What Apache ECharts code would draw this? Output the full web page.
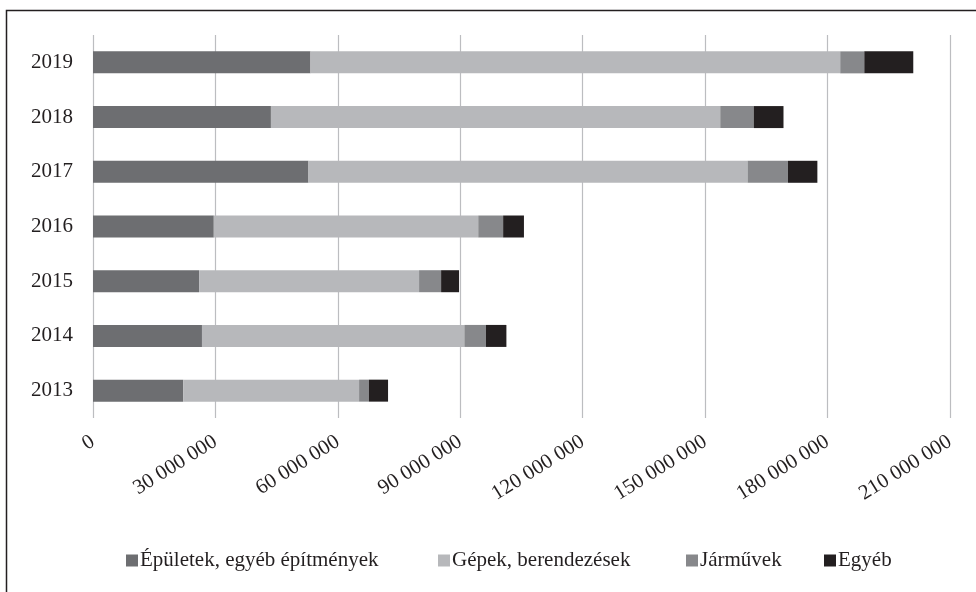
<!DOCTYPE html>
<html>
<head>
<meta charset="utf-8">
<script src="https://cdn.jsdelivr.net/npm/echarts@6/dist/echarts.min.js"></script>
<style>
html,body{margin:0;padding:0;background:#fff;}
#chart{width:976px;height:592px;}
</style>
</head>
<body>
<div id="chart"></div>
<script>
var years = ['2013', '2014', '2015', '2016', '2017', '2018', '2019'];
var seriesNames = ['Épületek, egyéb építmények', 'Gépek, berendezések', 'Járművek', 'Egyéb'];
var epuletek = [22100000, 26700000, 26000000, 29600000, 52800000, 43600000, 53300000];
var gepek    = [43100000, 64300000, 53900000, 64800000, 107600000, 110100000, 129800000];
var jarmuvek = [2400000, 5300000, 5400000, 6100000, 9900000, 8200000, 5900000];
var egyeb    = [4700000, 5000000, 4400000, 5100000, 7200000, 7300000, 12000000];
var colors = ['#6d6e71', '#b7b8bb', '#87888b', '#231f20'];
var seriesData = [epuletek, gepek, jarmuvek, egyeb];
var legendLefts = [126, 438, 686, 824];

var font = '"Liberation Serif", "DejaVu Serif", serif';

function fmt(v) {
  return String(v).replace(/\B(?=(\d{3})+(?!\d))/g, ' ');
}

var chart = echarts.init(document.getElementById('chart'), null, {renderer: 'canvas'});
chart.setOption({
  animation: false,
  backgroundColor: '#fff',
  textStyle: {fontFamily: font, color: '#231f20'},
  graphic: [{
    type: 'rect',
    shape: {x: 6.5, y: 10.5, width: 1200, height: 1200},
    style: {fill: 'none', stroke: '#231f20', lineWidth: 1.5},
    silent: true
  }],
  grid: {left: 93, right: 26, top: 35, bottom: 174, containLabel: false},
  legend: seriesNames.map(function (n, i) {
    return {
      data: [n],
      top: 550,
      left: legendLefts[i],
      padding: 0,
      itemWidth: 12,
      itemHeight: 12,
      icon: 'rect',
      textStyle: {fontFamily: font, fontSize: 21, color: '#231f20', padding: [0, 0, 0, -3]}
    };
  }),
  xAxis: {
    type: 'value',
    min: 0,
    max: 210000000,
    interval: 30000000,
    axisLine: {show: false},
    axisTick: {show: false},
    splitLine: {show: true, lineStyle: {color: '#bcbdc0', width: 1.2}},
    axisLabel: {
      rotate: 32,
      margin: 22,
      fontFamily: font,
      fontSize: 21,
      color: '#231f20',
      formatter: function (v) { return fmt(v); }
    }
  },
  yAxis: {
    type: 'category',
    data: years,
    axisLine: {show: false},
    axisTick: {show: false},
    axisLabel: {margin: 20, fontFamily: font, fontSize: 21, color: '#231f20'}
  },
  series: seriesData.map(function (d, i) {
    return {
      name: seriesNames[i],
      type: 'bar',
      stack: 'total',
      data: d,
      barWidth: 22,
      itemStyle: {color: colors[i]}
    };
  })
});
</script>
</body>
</html>
